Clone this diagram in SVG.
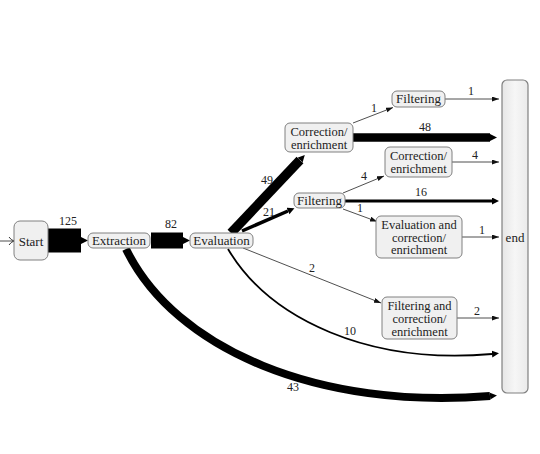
<svg xmlns="http://www.w3.org/2000/svg" width="540" height="454" viewBox="0 0 540 454">
<style>
.box{fill:#f0f0f0;stroke:#808080;stroke-width:1}
.t{font-family:"Liberation Serif","DejaVu Serif",serif;font-size:13px;fill:#222;text-anchor:middle}
.m{font-size:12.5px}
.l{font-family:"Liberation Serif","DejaVu Serif",serif;font-size:12px;fill:#222;text-anchor:middle}
.thin{fill:none;stroke:#222;stroke-width:0.8}
.thick{fill:none;stroke:#000}
</style>
<defs>
<marker id="ah" markerUnits="userSpaceOnUse" markerWidth="8" markerHeight="6" refX="7" refY="2.5" orient="auto"><path d="M0,0 L7,2.5 L0,5 z" fill="#111"/></marker>
<marker id="ahb" markerUnits="userSpaceOnUse" markerWidth="8" markerHeight="8" refX="0" refY="3.5" orient="auto"><path d="M0,0 L7,3.5 L0,7 z" fill="#000"/></marker>
<marker id="open" markerUnits="userSpaceOnUse" markerWidth="8" markerHeight="10" refX="6" refY="4.5" orient="auto"><path d="M1,0.5 Q3,3.5 6,4.5 Q3,5.5 1,8.5" fill="none" stroke="#222" stroke-width="0.9"/></marker>
<linearGradient id="eg" x1="0" x2="1" y1="0" y2="0"><stop offset="0" stop-color="#e6e6e6"/><stop offset="0.5" stop-color="#f6f6f6"/><stop offset="1" stop-color="#eaeaea"/></linearGradient>
</defs>
<g id="connectors">
<path class="thin" d="M0,241 L14,241" marker-end="url(#open)"/>
<path class="thick" d="M48,240.5 L81,240.5" stroke-width="24" marker-end="url(#ahb)"/>
<text class="l" x="68" y="225">125</text>
<path class="thick" d="M151,240.5 L183,240.5" stroke-width="16" marker-end="url(#ahb)"/>
<text class="l" x="171" y="228">82</text>
<path class="thick" d="M231,233 L300,160" stroke-width="9.5" marker-end="url(#ahb)"/>
<text class="l" x="267" y="184">49</text>
<path class="thick" d="M242,231 L288,211" stroke-width="3.5" marker-end="url(#ahb)"/>
<text class="l" x="269" y="216">21</text>
<path class="thin" d="M353,123 L393,107.5" marker-end="url(#ah)"/>
<text class="l" x="374" y="112">1</text>
<path class="thin" d="M445,99 L499,99" marker-end="url(#ah)"/>
<text class="l" x="471" y="95">1</text>
<path class="thick" d="M353,137.5 L490,137.5" stroke-width="8.5" marker-end="url(#ahb)"/>
<text class="l" x="425" y="131">48</text>
<path class="thin" d="M452,162 L499,162" marker-end="url(#ah)"/>
<text class="l" x="475" y="159">4</text>
<path class="thin" d="M343,193 L384,176" marker-end="url(#ah)"/>
<text class="l" x="364" y="180">4</text>
<path class="thick" d="M345,201 L492,201" stroke-width="2.8" marker-end="url(#ahb)"/>
<text class="l" x="421" y="196">16</text>
<path class="thin" d="M343,209 L377,221.5" marker-end="url(#ah)"/>
<text class="l" x="360" y="212">1</text>
<path class="thin" d="M462,237 L499,237" marker-end="url(#ah)"/>
<text class="l" x="482" y="234">1</text>
<path class="thin" d="M243,248 L381,303" marker-end="url(#ah)"/>
<text class="l" x="312" y="272">2</text>
<path class="thin" d="M457,318 L499,318" marker-end="url(#ah)"/>
<text class="l" x="477" y="315">2</text>
<path class="thick" d="M228,249 C270,320 370,365 492,354" stroke-width="1.8" marker-end="url(#ahb)"/>
<text class="l" x="350" y="335">10</text>
<path class="thick" d="M126,249 C175,350 320,410 490,396" stroke-width="8" marker-end="url(#ahb)"/>
<text class="l" x="293" y="391">43</text>
</g>
<g id="start"><rect class="box" x="14" y="221" width="34" height="39" rx="6"/><text class="t" x="31" y="245.5">Start</text></g>
<g id="extraction"><rect class="box" x="88" y="233" width="62" height="15" rx="5"/><text class="t" x="119" y="245">Extraction</text></g>
<g id="evaluation"><rect class="box" x="190" y="233" width="63" height="15" rx="5"/><text class="t" x="221.5" y="245">Evaluation</text></g>
<g id="correction1"><rect class="box" x="285" y="123" width="68" height="29" rx="5"/><text class="t m" x="319" y="136">Correction/</text><text class="t m" x="319" y="149">enrichment</text></g>
<g id="filtering1"><rect class="box" x="392" y="91" width="53" height="16" rx="5"/><text class="t" x="418.5" y="103">Filtering</text></g>
<g id="correction2"><rect class="box" x="385" y="147" width="67" height="30" rx="5"/><text class="t m" x="418.5" y="160">Correction/</text><text class="t m" x="418.5" y="173">enrichment</text></g>
<g id="filtering2"><rect class="box" x="294" y="193" width="51" height="15" rx="5"/><text class="t" x="319.5" y="205">Filtering</text></g>
<g id="evalcorr"><rect class="box" x="376" y="216" width="86" height="42" rx="5"/><text class="t m" x="419" y="228.5">Evaluation and</text><text class="t m" x="419" y="241.5">correction/</text><text class="t m" x="419" y="254">enrichment</text></g>
<g id="filtcorr"><rect class="box" x="382" y="297" width="75" height="42" rx="5"/><text class="t m" x="419.5" y="310">Filtering and</text><text class="t m" x="419.5" y="323">correction/</text><text class="t m" x="419.5" y="336">enrichment</text></g>
<g id="end"><rect x="502" y="80" width="26" height="313" rx="5" fill="url(#eg)" stroke="#808080" stroke-width="1.2"/><text class="t" x="515" y="242">end</text></g>
</svg>
